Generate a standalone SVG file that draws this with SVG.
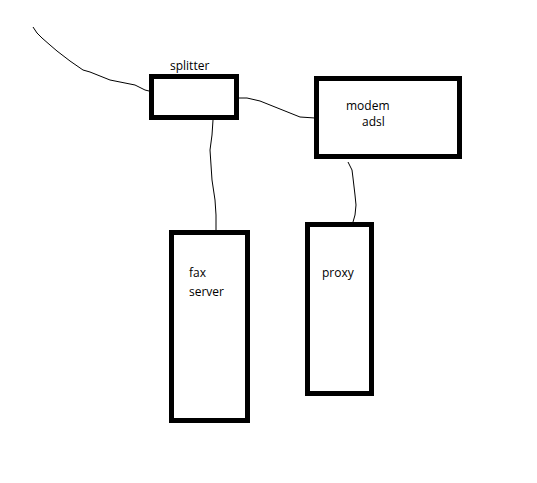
<svg xmlns="http://www.w3.org/2000/svg" width="537" height="483" viewBox="0 0 537 483">
<style>
.box{fill:#fff;stroke:#000;stroke-width:5}
.wire{fill:none;stroke:#000;stroke-width:1}
text{font-family:"Open Sans","Noto Sans","Liberation Sans",sans-serif;font-size:12px;fill:#000}
</style>
<rect width="537" height="483" fill="#fff"/>
<g id="connectors">
<polyline class="wire" points="33,27 37,33 42,38 50,45 57,51 70,61 83,70 90,72 100,76 110,80 120,82 135,85 145,90 149,91"/>
<polyline class="wire" points="239,98 247,98 260,101 275,107 290,113 300,117 315,118"/>
<polyline class="wire" points="213,120 212,135 210,150 211,165 212,180 215,200 216,215 216,230"/>
<polyline class="wire" points="348,162 352,170 353,178 355,195 356,205 355,215 353,222"/>
</g>
<g id="splitter">
<rect class="box" x="151.5" y="76.5" width="85" height="41"/>
<text x="170" y="70">splitter</text>
</g>
<g id="modem">
<rect class="box" x="316.5" y="78.5" width="143" height="78"/>
<text x="346" y="109.5">modem</text>
<text x="362" y="126">adsl</text>
</g>
<g id="fax-server">
<rect class="box" x="171.5" y="232.5" width="76" height="188"/>
<text x="189" y="277">fax</text>
<text x="189" y="296">server</text>
</g>
<g id="proxy">
<rect class="box" x="307.5" y="224.5" width="64" height="169"/>
<text x="322" y="277">proxy</text>
</g>
</svg>
